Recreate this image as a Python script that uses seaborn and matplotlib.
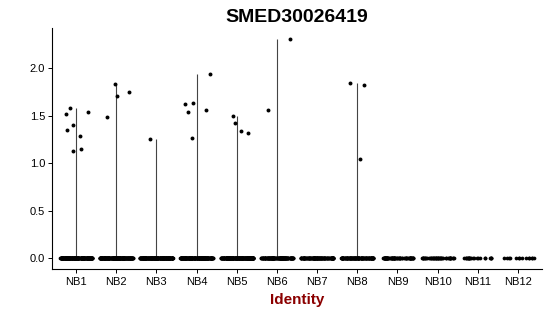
import numpy as np
import pandas as pd
import matplotlib
matplotlib.use("Agg")
import matplotlib.pyplot as plt
import seaborn as sns

sns.set_theme(style="ticks")
plt.rcParams['font.family'] = ['Liberation Sans', 'DejaVu Sans']
plt.rcParams['text.color'] = 'black'

groups = ["NB1", "NB2", "NB3", "NB4", "NB5", "NB6", "NB7", "NB8", "NB9", "NB10", "NB11", "NB12"]
# number of cells with zero expression per identity (estimated)
zero_counts = [200, 200, 200, 200, 200, 130, 110, 110, 70, 45, 22, 14]
# non-zero expression values per identity
nz_values = {
    "NB1": [1.517, 1.584, 1.351, 1.404, 1.129, 1.291, 1.153, 1.545],
    "NB2": [1.492, 1.831, 1.707, 1.746],
    "NB3": [1.256],
    "NB4": [1.619, 1.541, 1.263, 1.637, 1.556, 1.944],
    "NB5": [1.499, 1.429, 1.344, 1.323],
    "NB6": [1.559, 2.313],
    "NB8": [1.844, 1.827, 1.048],
}
# horizontal jitter of the non-zero points as drawn
nz_jitter = {
    "NB1": [-0.25, -0.15, -0.22, -0.07, -0.07, 0.11, 0.12, 0.30],
    "NB2": [-0.23, -0.02, 0.03, 0.32],
    "NB3": [-0.15],
    "NB4": [-0.30, -0.21, -0.11, -0.08, 0.24, 0.34],
    "NB5": [-0.09, -0.04, 0.11, 0.27],
    "NB6": [-0.23, 0.32],
    "NB8": [-0.17, 0.17, 0.08],
}
title = "SMED30026419"
xlabel = "Identity"

zero_df = pd.DataFrame({
    "ident": np.repeat(groups, zero_counts),
    "expr": np.zeros(sum(zero_counts)),
})
zero_df["ident"] = pd.Categorical(zero_df["ident"], categories=groups, ordered=True)

fig = plt.figure(figsize=(5.5, 3.16), dpi=100)
ax = fig.add_axes([0.0945, 0.1487, 0.891, 0.7627])

# violin outlines (degenerate: thin line from 0 to the group's max)
for i, g in enumerate(groups):
    vals = nz_values.get(g, [])
    top = max(vals) if vals else 0.0
    if top > 0:
        ax.vlines(i, 0, top, color="#444444", linewidth=0.8, zorder=1)

np.random.seed(3)
sns.stripplot(data=zero_df, x="ident", y="expr", order=groups, jitter=0.41,
              color="black", size=2.7, linewidth=0, ax=ax, zorder=3)

xs, ys = [], []
for i, g in enumerate(groups):
    for v, j in zip(nz_values.get(g, []), nz_jitter.get(g, [])):
        xs.append(i + j)
        ys.append(v)
ax.scatter(xs, ys, s=8, color="black", linewidths=0, zorder=4)

ax.set_xlim(-0.6, 11.6)
ax.set_ylim(-0.1155, 2.4255)
ax.set_yticks([0, 0.5, 1.0, 1.5, 2.0])
ax.set_yticklabels(["0.0", "0.5", "1.0", "1.5", "2.0"])
ax.tick_params(axis="both", labelsize=8, colors="black", length=3, width=0.7, pad=2)
ax.tick_params(axis="x", pad=3)
for s in ["left", "bottom"]:
    ax.spines[s].set_color("black")
    ax.spines[s].set_linewidth(0.8)
sns.despine(ax=ax)
ax.set_ylabel("")
ax.set_xlabel(xlabel, fontsize=11, fontweight="bold", color="#8B0000", labelpad=4)
ax.set_title(title, fontsize=14, fontweight="bold", color="black", pad=4)

fig.savefig("out.png", dpi=100)
